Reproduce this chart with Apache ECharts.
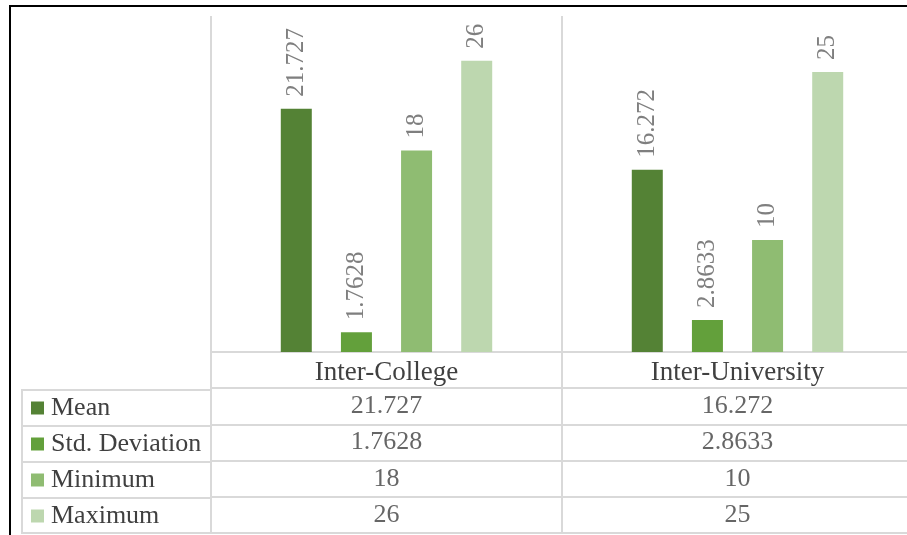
<!DOCTYPE html>
<html>
<head>
<meta charset="utf-8">
<script src="https://cdn.jsdelivr.net/npm/echarts@6/dist/echarts.min.js"></script>
<style>
html,body{margin:0;padding:0;background:#fff;}
#chart{width:907px;height:535px;}
</style>
</head>
<body>
<div id="chart"></div>
<script>
// ---- data ----
const categories = ['Inter-College', 'Inter-University'];
const seriesNames = ['Mean', 'Std. Deviation', 'Minimum', 'Maximum'];
const meanValues = [21.727, 16.272];
const stdValues = [1.7628, 2.8633];
const minValues = [18, 10];
const maxValues = [26, 25];
const allValues = [meanValues, stdValues, minValues, maxValues];
// ---- style ----
const colors = ['#548235', '#63A03B', '#8FBC72', '#BDD7AF'];
const serif = "Liberation Serif";
const gridLine = '#D9D9D9';
const textDark = '#404040';

const chart = echarts.init(document.getElementById('chart'), null, {renderer: 'canvas'});

const tableRows = ['header'].concat(seriesNames);

const series = [];
seriesNames.forEach((name, i) => {
  series.push({
    name: name,
    type: 'bar',
    xAxisIndex: 0, yAxisIndex: 0,
    data: allValues[i],
    barWidth: 31,
    barGap: '94%',
    itemStyle: {color: colors[i]},
    label: {
      show: true, position: 'top', rotate: 90, distance: 12,
      align: 'left', verticalAlign: 'middle',
      fontFamily: serif, fontSize: 25, color: '#7F7F7F',
      formatter: p => String(p.value)
    },
    silent: true
  });
  series.push({
    name: name + ' table',
    type: 'scatter',
    xAxisIndex: 1, yAxisIndex: 1,
    symbolSize: 1,
    itemStyle: {color: 'rgba(0,0,0,0)'},
    data: categories.map((c, j) => [c, name, allValues[i][j]]),
    label: {
      show: true, position: 'inside',
      fontFamily: serif, fontSize: 26, color: textDark,
      formatter: p => String(p.value[2])
    },
    silent: true
  });
});

const option = {
  backgroundColor: '#fff',
  animation: false,
  textStyle: {fontFamily: serif},
  legend: {
    data: seriesNames,
    orient: 'vertical',
    left: 31, top: 395,
    icon: 'rect',
    itemWidth: 13, itemHeight: 13,
    itemGap: 10,
    selectedMode: false,
    padding: 0,
    textStyle: {fontFamily: serif, fontSize: 26, color: textDark, padding: [0, 0, 0, 2]}
  },
  grid: [
    {left: 211, right: -6, top: 16, bottom: 183, outerBoundsMode: 'none', containLabel: false},
    {left: 211, right: -6, top: 352, bottom: 2, show: true, borderColor: gridLine, borderWidth: 2, outerBoundsMode: 'none', containLabel: false, z: 1},
    {left: 22, width: 189, top: 390, bottom: 2, show: true, borderColor: gridLine, borderWidth: 2, outerBoundsMode: 'none', containLabel: false, z: 1},
    {left: 10, top: 6, right: -20, bottom: -20, show: true, borderColor: '#000', borderWidth: 2, outerBoundsMode: 'none', containLabel: false, z: 0}
  ],
  xAxis: [
    {type: 'category', gridIndex: 0, data: categories,
     axisLine: {show: false}, axisTick: {show: false},
     splitLine: {show: true, lineStyle: {color: gridLine, width: 2}},
     axisLabel: {fontFamily: serif, fontSize: 27, color: textDark, margin: 7}},
    {type: 'category', gridIndex: 1, data: categories,
     axisLine: {show: false}, axisTick: {show: false}, axisLabel: {show: false},
     splitLine: {show: true, lineStyle: {color: gridLine, width: 2}}},
    {type: 'category', gridIndex: 2, data: ['legend'], show: false},
    {type: 'value', gridIndex: 3, show: false}
  ],
  yAxis: [
    {type: 'value', gridIndex: 0, min: 0, max: 30, show: false},
    {type: 'category', gridIndex: 1, data: tableRows, inverse: true,
     axisLine: {show: false}, axisTick: {show: false}, axisLabel: {show: false},
     splitLine: {show: true, lineStyle: {color: gridLine, width: 2}}},
    {type: 'category', gridIndex: 2, data: seriesNames, inverse: true,
     axisLine: {show: false}, axisTick: {show: false}, axisLabel: {show: false},
     splitLine: {show: true, lineStyle: {color: gridLine, width: 2}}},
    {type: 'value', gridIndex: 3, show: false}
  ],
  series: series
};
chart.setOption(option);
</script>
</body>
</html>
